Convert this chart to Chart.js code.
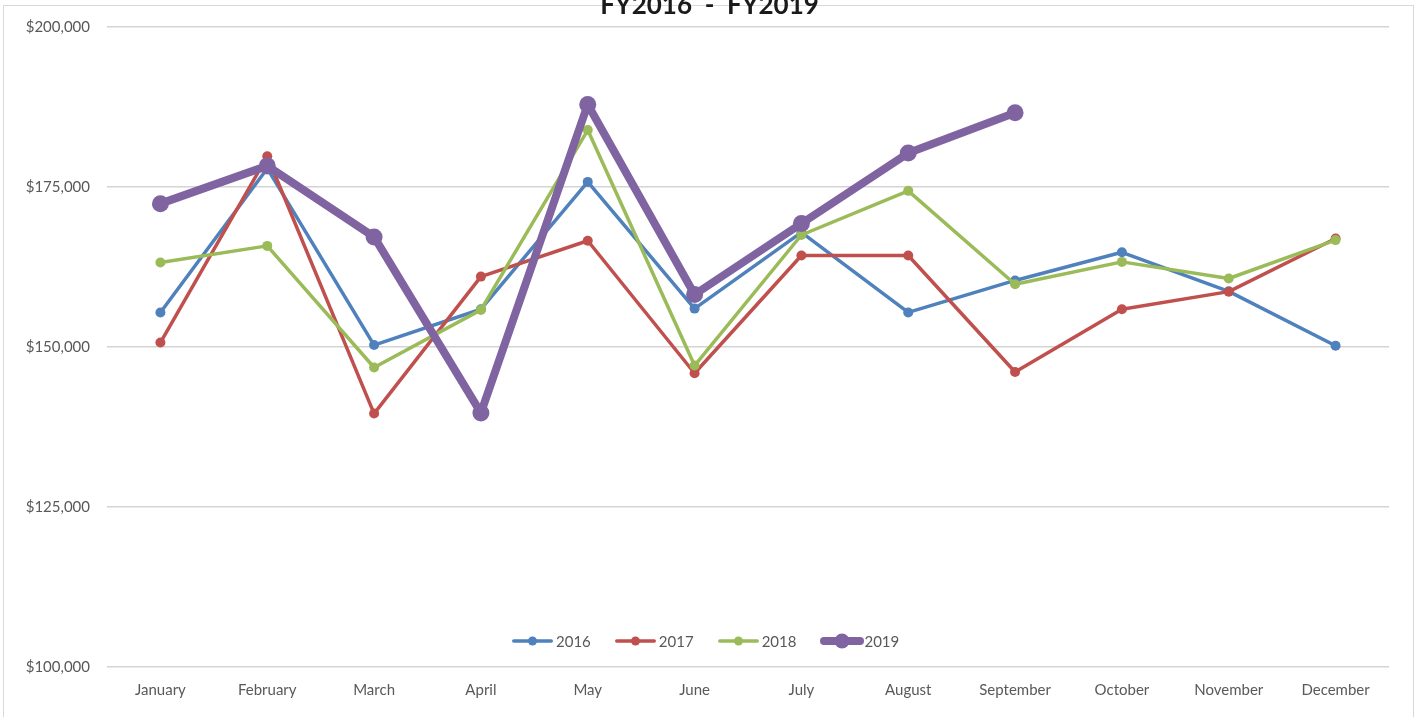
<!DOCTYPE html>
<html>
<head>
<meta charset="utf-8">
<script src="https://cdn.jsdelivr.net/npm/chart.js@4"></script>
<style>
  html, body { margin: 0; padding: 0; background: #fff; }
  #wrap { position: relative; width: 1419px; height: 717px; overflow: hidden; background: #fff; }
  #frame { position: absolute; left: 3px; top: 5px; width: 1411px; height: 730px; border: 1px solid #d9d9d9; box-sizing: border-box; }
  #chart { position: absolute; left: 0; top: 0; }
  #title { position: absolute; left: 0; width: 1419px; top: -9px; text-align: center; font-family: Lato, sans-serif; font-weight: bold; font-size: 26px; line-height: 26px; color: #1a1a1a; white-space: pre; }
  #legend { position: absolute; left: 512px; top: 631px; height: 20px; display: flex; align-items: center; font-family: Lato, sans-serif; font-size: 15px; color: #595959; }
  .item { display: flex; align-items: center; margin-right: 24px; }
  .item svg { display: block; margin-right: 3px; }
</style>
</head>
<body>
<div id="wrap">
  <div id="frame"></div>
  <canvas id="chart" width="1419" height="717"></canvas>
  <div id="title">FY2016  -  FY2019</div>
  <div id="legend"></div>
</div>
<script>
const months = ["January","February","March","April","May","June","July","August","September","October","November","December"];
const seriesNames = ["2016","2017","2018","2019"];
const sales2016 = [155400, 177900, 150300, 155900, 175800, 156000, 167900, 155400, 160400, 164800, 158700, 150200];
const sales2017 = [150700, 179800, 139600, 161000, 166600, 145900, 164300, 164300, 146100, 155900, 158650, 166950];
const sales2018 = [163200, 165800, 146800, 155800, 183900, 147100, 167500, 174400, 159800, 163300, 160700, 166700];
const sales2019 = [172400, 178300, 167200, 139700, 187900, 158200, 169300, 180300, 186600, null, null, null];
const yMin = 100000, yMax = 200000, yStep = 25000;

const colors = ["#4F81BD", "#C0504D", "#9BBB59", "#8064A2"];
const widths = [3.5, 3.5, 3.5, 8];
const radii = [5, 5, 5, 8.5];
const allData = [sales2016, sales2017, sales2018, sales2019];

const datasets = allData.map((d, i) => ({
  label: seriesNames[i],
  data: d,
  borderColor: colors[i],
  backgroundColor: colors[i],
  pointBackgroundColor: colors[i],
  pointBorderColor: colors[i],
  pointBorderWidth: 0,
  pointRadius: radii[i],
  borderWidth: widths[i],
  tension: 0,
  borderCapStyle: 'round',
  borderJoinStyle: 'round',
  spanGaps: false,
  order: 3 - i
}));

new Chart(document.getElementById('chart'), {
  type: 'line',
  data: { labels: months, datasets },
  options: {
    responsive: false,
    animation: false,
    layout: { padding: { left: 0, right: 30, top: 27, bottom: 0 } },
    plugins: { legend: { display: false }, tooltip: { enabled: false }, title: { display: false } },
    scales: {
      x: {
        offset: true,
        grid: { display: false, drawTicks: false },
        border: { display: false },
        ticks: { color: '#595959', font: { family: 'Lato', size: 15 }, padding: 14, maxRotation: 0, autoSkip: false },
        afterFit: s => { s.height = 50; }
      },
      y: {
        min: yMin, max: yMax,
        grid: { color: '#d4d4d4', lineWidth: 1.5, drawTicks: false },
        border: { display: false },
        ticks: {
          stepSize: yStep,
          color: '#595959',
          font: { family: 'Lato', size: 15 },
          padding: 17,
          callback: v => '$' + v.toLocaleString('en-US')
        },
        afterFit: s => { s.width = 107; }
      }
    }
  }
});

// HTML legend built from the series
const legend = document.getElementById('legend');
seriesNames.forEach((name, i) => {
  const item = document.createElement('div');
  item.className = 'item';
  const w = i === 3 ? 44 : 41;
  const ns = 'http://www.w3.org/2000/svg';
  const svg = document.createElementNS(ns, 'svg');
  svg.setAttribute('width', w); svg.setAttribute('height', 20);
  const line = document.createElementNS(ns, 'line');
  line.setAttribute('x1', widths[i] / 2); line.setAttribute('x2', w - widths[i] / 2);
  line.setAttribute('y1', 10); line.setAttribute('y2', 10);
  line.setAttribute('stroke', colors[i]); line.setAttribute('stroke-width', widths[i]);
  line.setAttribute('stroke-linecap', 'round');
  const c = document.createElementNS(ns, 'circle');
  c.setAttribute('cx', w / 2); c.setAttribute('cy', 10); c.setAttribute('r', i === 3 ? 7.5 : 4.5);
  c.setAttribute('fill', colors[i]);
  svg.appendChild(line); svg.appendChild(c);
  if (i === 3) svg.style.marginRight = '0px';
  const t = document.createElement('span');
  t.textContent = name;
  item.appendChild(svg); item.appendChild(t);
  legend.appendChild(item);
});
</script>
</body>
</html>
